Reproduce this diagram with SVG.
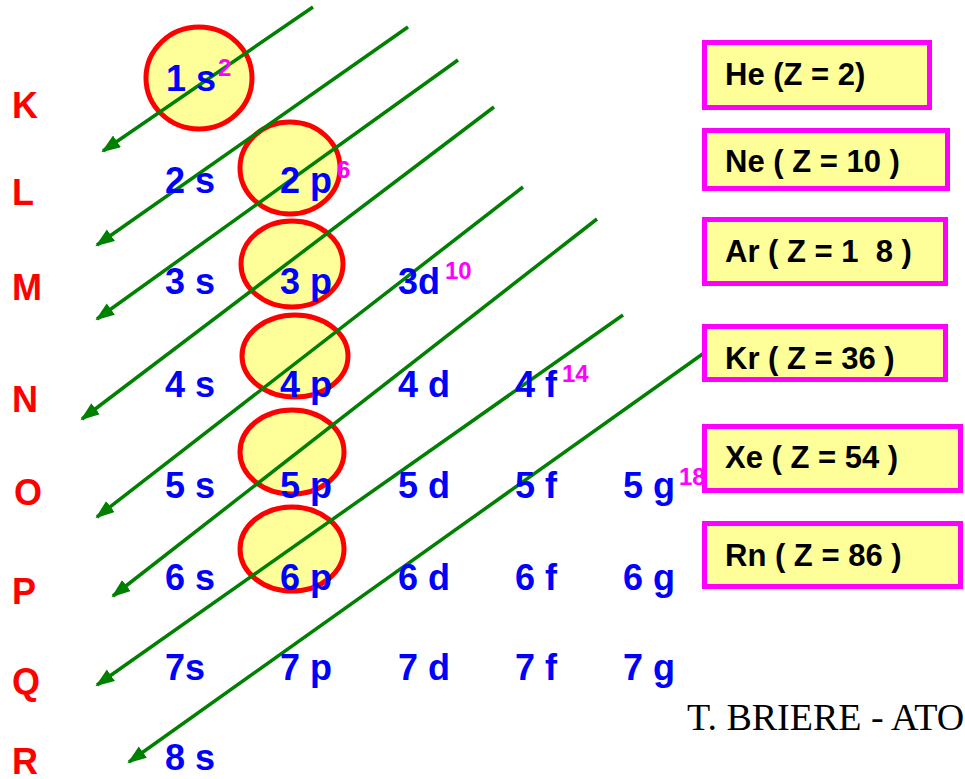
<svg xmlns="http://www.w3.org/2000/svg" width="965" height="779" viewBox="0 0 965 779">
<style>
.orb{fill:#ffff99;stroke:#ff0000;stroke-width:5}
.box{fill:#ffff99;stroke:#ff00ff;stroke-width:5}
.sub{font-family:"Liberation Sans",Arial,sans-serif;font-weight:bold;font-size:36px;fill:#0000ff}
.sup{font-family:"Liberation Sans",Arial,sans-serif;font-weight:bold;font-size:24px;fill:#ff00ff}
.lvl{font-family:"Liberation Sans",Arial,sans-serif;font-weight:bold;font-size:36px;fill:#ff0000}
.lab{font-family:"Liberation Sans",Arial,sans-serif;font-weight:bold;font-size:31px;fill:#000000;white-space:pre}
.arr{stroke:#008000;stroke-width:3.5;fill:none;marker-end:url(#ah)}
.cred{font-family:"Liberation Serif","Times New Roman",serif;font-size:38px;fill:#000000}
</style>
<defs>
<marker id="ah" markerUnits="userSpaceOnUse" markerWidth="20" markerHeight="16" refX="17" refY="7" orient="auto">
<path d="M0,0 L19,7 L0,14 z" fill="#008000"/>
</marker>
</defs>
<rect width="965" height="779" fill="#ffffff"/>
<g id="orbitals-highlight">
<ellipse id="c1s" class="orb" cx="199" cy="78" rx="53" ry="51"/>
<ellipse id="c2p" class="orb" cx="290" cy="168" rx="50" ry="46"/>
<ellipse id="c3p" class="orb" cx="292" cy="264" rx="51" ry="43"/>
<ellipse id="c4p" class="orb" cx="295" cy="356" rx="53" ry="41"/>
<ellipse id="c5p" class="orb" cx="292" cy="452" rx="52" ry="42"/>
<ellipse id="c6p" class="orb" cx="292" cy="549" rx="52" ry="42"/>
</g>
<g id="connectors">
<line class="arr" x1="313" y1="7" x2="103" y2="151"/>
<line class="arr" x1="408" y1="27" x2="97" y2="245"/>
<line class="arr" x1="458" y1="60" x2="97" y2="319"/>
<line class="arr" x1="494" y1="107" x2="82" y2="419"/>
<line class="arr" x1="523" y1="187" x2="97" y2="517"/>
<line class="arr" x1="597" y1="219" x2="113" y2="596"/>
<line class="arr" x1="623" y1="315" x2="97" y2="685"/>
<line class="arr" x1="704" y1="353" x2="129" y2="762"/>
</g>
<g id="levels">
<text class="lvl" x="12" y="118">K</text>
<text class="lvl" x="12" y="205">L</text>
<text class="lvl" x="12" y="300">M</text>
<text class="lvl" x="12" y="412">N</text>
<text class="lvl" x="14" y="505">O</text>
<text class="lvl" x="12" y="604">P</text>
<text class="lvl" x="12" y="694">Q</text>
<text class="lvl" x="12" y="774">R</text>
</g>
<g id="subshells">
<text class="sub" x="166" y="91">1 s</text>
<text class="sup" x="218" y="76">2</text>
<text class="sub" x="165" y="193">2 s</text>
<text class="sub" x="280" y="193">2 p</text>
<text class="sup" x="337" y="178">6</text>
<text class="sub" x="165" y="294">3 s</text>
<text class="sub" x="280" y="294">3 p</text>
<text class="sub" x="398" y="294">3d</text>
<text class="sup" x="445" y="279">10</text>
<text class="sub" x="165" y="397">4 s</text>
<text class="sub" x="280" y="397">4 p</text>
<text class="sub" x="398" y="397">4 d</text>
<text class="sub" x="515" y="397">4 f</text>
<text class="sup" x="562" y="382">14</text>
<text class="sub" x="165" y="498">5 s</text>
<text class="sub" x="280" y="498">5 p</text>
<text class="sub" x="398" y="498">5 d</text>
<text class="sub" x="515" y="498">5 f</text>
<text class="sub" x="623" y="498">5 g</text>
<text class="sup" x="679" y="485">18</text>
<text class="sub" x="165" y="590">6 s</text>
<text class="sub" x="280" y="590">6 p</text>
<text class="sub" x="398" y="590">6 d</text>
<text class="sub" x="515" y="590">6 f</text>
<text class="sub" x="623" y="590">6 g</text>
<text class="sub" x="165" y="680">7s</text>
<text class="sub" x="280" y="680">7 p</text>
<text class="sub" x="398" y="680">7 d</text>
<text class="sub" x="515" y="680">7 f</text>
<text class="sub" x="623" y="680">7 g</text>
<text class="sub" x="165" y="770">8 s</text>
</g>
<g id="He"><rect class="box" x="704.5" y="42.5" width="225" height="65"/><text class="lab" x="725" y="85">He (Z = 2)</text></g>
<g id="Ne"><rect class="box" x="704.5" y="130.5" width="243" height="58"/><text class="lab" x="725" y="172">Ne ( Z = 10 )</text></g>
<g id="Ar"><rect class="box" x="704.5" y="219.5" width="241" height="64"/><text class="lab" x="725" y="262">Ar ( Z = 1  8 )</text></g>
<g id="Kr"><rect class="box" x="704.5" y="326.5" width="241" height="53"/><text class="lab" x="725" y="369">Kr ( Z = 36 )</text></g>
<g id="Xe"><rect class="box" x="704.5" y="426.5" width="256" height="64"/><text class="lab" x="725" y="468">Xe ( Z = 54 )</text></g>
<g id="Rn"><rect class="box" x="704.5" y="523.5" width="256" height="63"/><text class="lab" x="725" y="566">Rn ( Z = 86 )</text></g>
<text class="cred" x="687" y="730">T. BRIERE - ATO</text>
</svg>
